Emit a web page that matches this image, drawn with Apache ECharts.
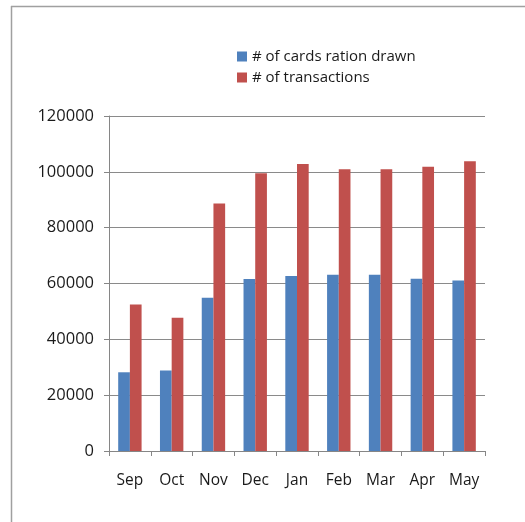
<!DOCTYPE html>
<html><head><meta charset="utf-8">
<script src="https://cdn.jsdelivr.net/npm/echarts@6/dist/echarts.min.js"></script>
<style>html,body{margin:0;padding:0;background:#fff}#c{width:525px;height:522px}</style>
</head><body><div id="c"></div>
<script>
const categories = ["Sep","Oct","Nov","Dec","Jan","Feb","Mar","Apr","May"];
const cardsDrawn = [28200, 28800, 54900, 61600, 62700, 63100, 63100, 61700, 61100];
const transactions = [52500, 47700, 88700, 99500, 102800, 100900, 100900, 101800, 103800];
const seriesNames = ["# of cards ration drawn", "# of transactions"];

const chart = echarts.init(document.getElementById('c'), null, {renderer:'canvas'});
const font = '"Open Sans", "Liberation Sans", sans-serif';
chart.setOption({
  animation:false,
  backgroundColor:'#fff',
  graphic:[
    {type:'line', shape:{x1:11,y1:6.5,x2:525,y2:6.5}, style:{stroke:'#a0a0a0', lineWidth:1.5}},
    {type:'line', shape:{x1:11.5,y1:6,x2:11.5,y2:522}, style:{stroke:'#a0a0a0', lineWidth:1.5}}
  ],
  legend:{
    orient:'vertical', left:232, top:43,
    itemWidth:10, itemHeight:10, itemGap:4, icon:'rect',
    textStyle:{fontFamily:font, fontSize:15, color:'#1a1a1a', lineHeight:17},
    data:seriesNames
  },
  grid:{left:109, right:40, top:116, bottom:71, containLabel:false},
  xAxis:{
    type:'category', data:categories,
    axisLine:{lineStyle:{color:'#868686', width:1}},
    axisTick:{show:true, length:5, lineStyle:{color:'#868686'}},
    axisLabel:{fontFamily:font, fontSize:15.5, color:'#1a1a1a', margin:22}
  },
  yAxis:{
    type:'value', min:0, max:120000, interval:20000,
    axisLine:{show:true, lineStyle:{color:'#868686'}},
    axisTick:{show:true, length:5, lineStyle:{color:'#868686'}},
    splitLine:{lineStyle:{color:'#8a8a8a', width:1}},
    axisLabel:{fontFamily:font, fontSize:16.5, color:'#1a1a1a', margin:15, formatter:function(v){return String(v);}}
  },
  series:[
    {name:seriesNames[0], type:'bar', data:cardsDrawn, itemStyle:{color:'#4F81BD'}, barGap:'0%', barCategoryGap:'44%'},
    {name:seriesNames[1], type:'bar', data:transactions, itemStyle:{color:'#C0504D'}, barGap:'0%', barCategoryGap:'44%'}
  ]
});
</script></body></html>
